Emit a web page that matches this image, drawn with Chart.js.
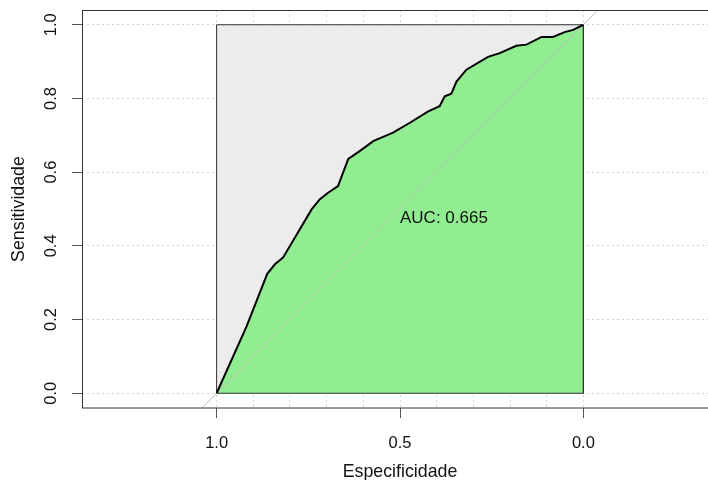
<!DOCTYPE html>
<html>
<head>
<meta charset="utf-8">
<script src="https://cdn.jsdelivr.net/npm/chart.js@4.4.1/dist/chart.umd.min.js"></script>
<style>
  html, body { margin: 0; padding: 0; overflow: hidden; background: #fff; }
  #wrap { width: 720px; height: 480px; }
</style>
</head>
<body>
<div id="wrap"><canvas id="roc" width="720" height="480"></canvas></div>
<script>
// ROC curve (specificity goes 1 -> 0)
const specificity = [1.000, 0.918, 0.862, 0.841, 0.819, 0.741, 0.719, 0.696, 0.669, 0.641, 0.610, 0.573, 0.519, 0.473, 0.423, 0.392, 0.378, 0.360, 0.346, 0.319, 0.260, 0.228, 0.183, 0.155, 0.114, 0.083, 0.051, 0.028, 0.000];
const sensitivity = [0.000, 0.182, 0.324, 0.350, 0.368, 0.499, 0.526, 0.544, 0.562, 0.636, 0.657, 0.684, 0.707, 0.734, 0.765, 0.779, 0.806, 0.813, 0.846, 0.878, 0.913, 0.923, 0.943, 0.946, 0.967, 0.967, 0.980, 0.986, 1.000];
const aucLabel = "AUC: 0.665";

const xGridTicks = [0, 0.1, 0.2, 0.3, 0.4, 0.5, 0.6, 0.7, 0.8, 0.9, 1];
const xLabelTicks = [0, 0.5, 1];
const yTicks = [0, 0.2, 0.4, 0.6, 0.8, 1];

const FONT = "'Liberation Sans', Arial, sans-serif";
const TEXT = "#111";

const rocPoints = specificity.map((s, i) => ({ x: s, y: sensitivity[i] }));
const isLabeled = (v) => xLabelTicks.some(t => Math.abs(t - v) < 1e-9);

const rExtras = {
  id: "rExtras",
  afterDraw(chart) {
    const { ctx, chartArea: a, scales: { x, y } } = chart;
    ctx.save();
    // box around plot region
    ctx.strokeStyle = "#333";
    ctx.lineWidth = 1;
    ctx.strokeRect(a.left + 0.5, a.top + 0.5, a.right - a.left - 1, a.bottom - a.top - 0.5);

    // rotated y tick labels, like R's default las=0
    ctx.fillStyle = TEXT;
    ctx.font = "16.5px " + FONT;
    ctx.textAlign = "center";
    ctx.textBaseline = "middle";
    yTicks.forEach(v => {
      ctx.save();
      ctx.translate(51, y.getPixelForValue(v));
      ctx.rotate(-Math.PI / 2);
      ctx.fillText(v.toFixed(1), 0, 0);
      ctx.restore();
    });

    // AUC text
    ctx.font = "17px " + FONT;
    ctx.textAlign = "left";
    ctx.fillText(aucLabel, x.getPixelForValue(0.5), y.getPixelForValue(0.5) + 9);
    ctx.restore();
  }
};

new Chart(document.getElementById("roc"), {
  type: "line",
  plugins: [rExtras],
  data: {
    datasets: [
      {
        // grey square of the full ROC space
        data: [{ x: 1, y: 1 }, { x: 0, y: 1 }],
        borderWidth: 0,
        backgroundColor: "#ECECEC",
        fill: { value: 0 },
        order: 6,
      },
      {
        // area under curve
        data: rocPoints,
        borderWidth: 0,
        backgroundColor: "#90EE90",
        fill: { value: 0 },
        order: 5,
      },
      {
        data: [{ x: 1, y: 0 }, { x: 1, y: 1 }, { x: 0, y: 1 }, { x: 0, y: 0 }, { x: 1, y: 0 }],
        borderColor: "#333",
        borderWidth: 1,
        fill: false,
        order: 4,
      },
      {
        // identity line across the plot region
        data: [{ x: 1.04, y: -0.04 }, { x: -0.04, y: 1.04 }],
        borderColor: "#BEBEBE",
        borderWidth: 1,
        fill: false,
        order: 3,
      },
      {
        data: rocPoints,
        borderColor: "#000",
        borderWidth: 2,
        fill: false,
        order: 2,
      },
    ],
  },
  options: {
    responsive: false,
    animation: false,
    devicePixelRatio: 1,
    elements: { point: { radius: 0 }, line: { tension: 0 } },
    layout: { padding: { top: 10, right: 2, left: 0, bottom: 0 } },
    plugins: { legend: { display: false }, tooltip: { enabled: false } },
    scales: {
      x: {
        type: "linear",
        reverse: true,
        min: -0.367,
        max: 1.367,
        afterBuildTicks: (scale) => { scale.ticks = xGridTicks.map(v => ({ value: v })); },
        afterFit: (scale) => { scale.height = 72; },
        ticks: {
          autoSkip: false,
          maxRotation: 0,
          padding: 16,
          color: TEXT,
          font: { family: FONT, size: 16.5 },
          callback: (v) => (isLabeled(v) ? Number(v).toFixed(1) : ""),
        },
        grid: {
          color: "#D3D3D3",
          tickLength: 10,
          tickColor: (c) => (c.tick && isLabeled(c.tick.value) ? "#555" : "rgba(0,0,0,0)"),
        },
        border: { display: false, dash: [2, 3] },
        title: {
          display: true,
          text: "Especificidade",
          color: TEXT,
          font: { family: FONT, size: 17.8, lineHeight: 0.9 },
          padding: { top: 0, bottom: 0 },
        },
      },
      y: {
        type: "linear",
        min: -0.04,
        max: 1.04,
        afterBuildTicks: (scale) => { scale.ticks = yTicks.map(v => ({ value: v })); },
        afterFit: (scale) => { scale.width = 82; },
        ticks: { display: false },
        grid: { color: "#D3D3D3", tickLength: 10, tickColor: "#555" },
        border: { display: false, dash: [2, 3] },
        title: {
          display: true,
          text: "Sensitividade",
          color: TEXT,
          font: { family: FONT, size: 17.8, lineHeight: 0.9 },
          padding: { top: 11, bottom: 0 },
        },
      },
    },
  },
});
</script>
</body>
</html>
